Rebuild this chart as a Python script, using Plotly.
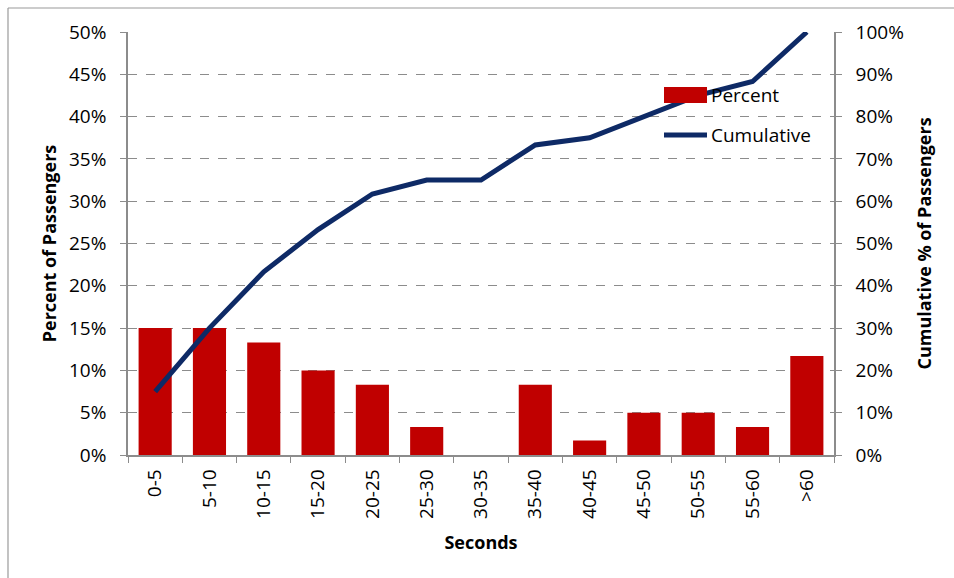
import plotly.graph_objects as go

# Dwell-time bins (seconds) and share of passengers in each bin
bins = ["0-5", "5-10", "10-15", "15-20", "20-25", "25-30", "30-35",
        "35-40", "40-45", "45-50", "50-55", "55-60", ">60"]
percent = [15.0, 15.0, 13.3, 10.0, 8.3, 3.3, 0.0, 8.3, 1.7, 5.0, 5.0, 3.3, 11.7]
cumulative = [15.0, 30.0, 43.3, 53.3, 61.7, 65.0, 65.0, 73.3, 75.0, 80.0, 85.0, 88.3, 100.0]

left_ticks = [0, 5, 10, 15, 20, 25, 30, 35, 40, 45, 50]
right_ticks = [0, 10, 20, 30, 40, 50, 60, 70, 80, 90, 100]

BAR_RED = "#C00000"
LINE_NAVY = "#0E2A66"
AXIS_GRAY = "#8C8C8C"
FONT = "Open Sans, Noto Sans, sans-serif"
TICK_SIZE = 19
TITLE_SIZE = 18

W, H = 954, 578
ML, MR, MT, MB = 128, 120, 32, 123
PW, PH = W - ML - MR, H - MT - MB


def px_x(p):
    return (p - ML) / PW


def px_y(p):
    return (H - MB - p) / PH


fig = go.Figure()
fig.add_trace(go.Bar(
    x=bins, y=percent, name="Percent",
    marker=dict(color=BAR_RED, line=dict(width=0)),
    showlegend=False,
))
fig.add_trace(go.Scatter(
    x=bins, y=cumulative, name="Cumulative", yaxis="y2",
    mode="lines", line=dict(color=LINE_NAVY, width=5),
    showlegend=False,
))

axis_common = dict(
    showline=True, linecolor=AXIS_GRAY, linewidth=1.5,
    ticks="outside", ticklen=6, tickcolor=AXIS_GRAY, tickwidth=1,
    tickfont=dict(family=FONT, size=TICK_SIZE, color="black"),
    zeroline=False,
)

fig.update_layout(
    width=W, height=H,
    margin=dict(l=ML, r=MR, t=MT, b=MB),
    paper_bgcolor="white", plot_bgcolor="white",
    bargap=0.39,
    font=dict(family=FONT, color="black"),
    xaxis=dict(
        **axis_common,
        tickangle=-90,
        tickson="boundaries",
        ticklabelstandoff=5,
        showgrid=False,
        title=dict(text="<b>Seconds</b>", font=dict(family=FONT, size=TITLE_SIZE), standoff=18),
    ),
    yaxis=dict(
        **axis_common,
        range=[0, 50], tickvals=left_ticks,
        ticktext=[f"{v}%" for v in left_ticks],
        ticklabelstandoff=10,
        showgrid=True, gridcolor=AXIS_GRAY, griddash="dash", gridwidth=1,
        title=dict(text="<b>Percent of Passengers</b>", font=dict(family=FONT, size=TITLE_SIZE), standoff=8),
    ),
    yaxis2=dict(
        **axis_common,
        overlaying="y", side="right",
        range=[0, 100], tickvals=right_ticks,
        ticktext=[f"{v}%" for v in right_ticks],
        ticklabelstandoff=10,
        showgrid=False,
        title=dict(text="<b>Cumulative % of Passengers</b>", font=dict(family=FONT, size=TITLE_SIZE), standoff=16),
    ),
)

# Outer chart-area frame (left and top edges)
fig.add_shape(type="line", xref="paper", yref="paper",
              x0=px_x(8), x1=px_x(W + 5), y0=px_y(8), y1=px_y(8),
              line=dict(color="#9A9A9A", width=1.2))
fig.add_shape(type="line", xref="paper", yref="paper",
              x0=px_x(8), x1=px_x(8), y0=px_y(8), y1=px_y(H + 5),
              line=dict(color="#9A9A9A", width=1.2))

# Legend, drawn on top of the series
fig.add_shape(type="rect", xref="paper", yref="paper",
              x0=px_x(664), x1=px_x(707), y0=px_y(103), y1=px_y(87),
              fillcolor=BAR_RED, line=dict(width=0), layer="above")
fig.add_shape(type="line", xref="paper", yref="paper",
              x0=px_x(664), x1=px_x(707), y0=px_y(135), y1=px_y(135),
              line=dict(color=LINE_NAVY, width=5), layer="above")
fig.add_annotation(xref="paper", yref="paper", x=px_x(709), y=px_y(95),
                   text="Percent", showarrow=False, xanchor="left", yanchor="middle",
                   font=dict(family=FONT, size=TICK_SIZE, color="black"))
fig.add_annotation(xref="paper", yref="paper", x=px_x(709), y=px_y(135),
                   text="Cumulative", showarrow=False, xanchor="left", yanchor="middle",
                   font=dict(family=FONT, size=TICK_SIZE, color="black"))

fig.write_html("out.html")
